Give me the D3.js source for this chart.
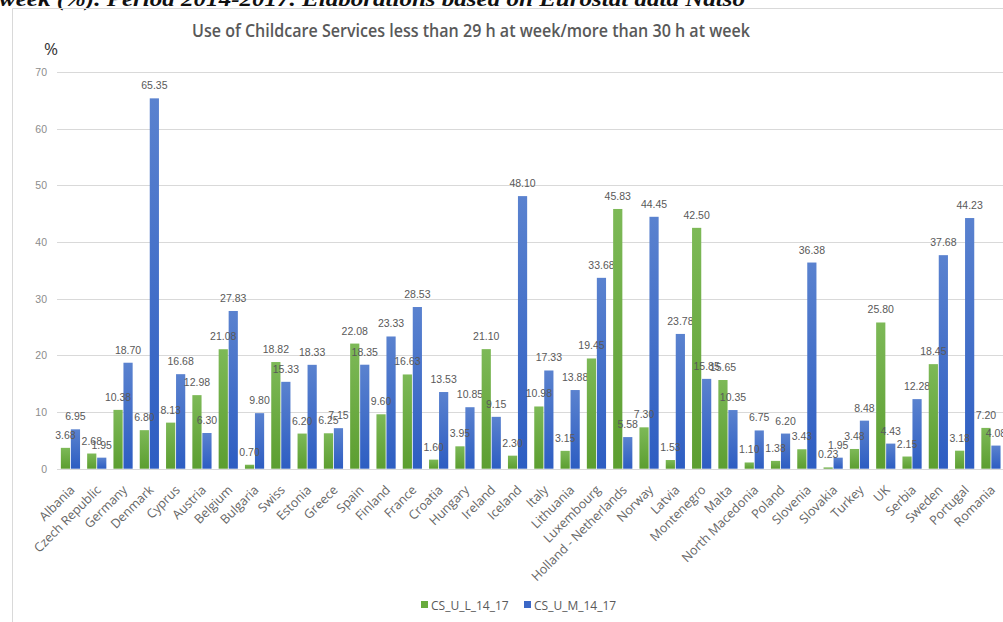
<!DOCTYPE html>
<html>
<head>
<meta charset="utf-8">
<script src="https://cdn.jsdelivr.net/npm/d3@7"></script>
<style>
  html, body { margin: 0; padding: 0; background: #fff; overflow: hidden; }
  svg { display: block; }
</style>
</head>
<body>
<svg id="chart" width="1003" height="622"></svg>
<script>
const countries = ["Albania","Czech Republic","Germany","Denmark","Cyprus","Austria","Belgium","Bulgaria","Swiss","Estonia","Greece","Spain","Finland","France","Croatia","Hungary","Ireland","Iceland","Italy","Lithuania","Luxembourg","Holland - Netherlands","Norway","Latvia","Montenegro","Malta","North Macedonia","Poland","Slovenia","Slovakia","Turkey","UK","Serbia","Sweden","Portugal","Romania"];
const csUL = [3.68,2.68,10.38,6.80,8.13,12.98,21.08,0.70,18.82,6.20,6.25,22.08,9.60,16.63,1.60,3.95,21.10,2.30,10.98,3.15,19.45,45.83,7.30,1.53,42.50,15.65,1.10,1.38,3.43,0.23,3.48,25.80,2.15,18.45,3.18,7.20];
const csUM = [6.95,1.95,18.70,65.35,16.68,6.30,27.83,9.80,15.33,18.33,7.15,18.35,23.33,28.53,13.53,10.85,9.15,48.10,17.33,13.88,33.68,5.58,44.45,23.78,15.85,10.35,6.75,6.20,36.38,1.95,8.48,4.43,12.28,37.68,44.23,4.08];
const seriesNames = ["CS_U_L_14_17","CS_U_M_14_17"];
const yTicks = [0,10,20,30,40,50,60,70];
const titleText = "Use of Childcare Services less than 29 h at week/more than 30 h at week";
const captionText = "week (%). Period 2014-2017. Elaborations based on Eurostat data Natso";

const svg = d3.select("#chart");
const defs = svg.append("defs");
function grad(id, top, bottom) {
  const g = defs.append("linearGradient").attr("id", id).attr("x1",0).attr("y1",0).attr("x2",0).attr("y2",1);
  g.append("stop").attr("offset","0%").attr("stop-color", top);
  g.append("stop").attr("offset","100%").attr("stop-color", bottom);
}
grad("gGreen", "#7db957", "#5c9e30");
grad("gBlue", "#5a82cf", "#2d5dc2");
const fills = ["url(#gGreen)", "url(#gBlue)"];
const legendColors = ["#68ab3d", "#3b67c6"];

// caption (cropped line of the surrounding document)
svg.append("text").attr("x", -1).attr("y", 6)
  .attr("font-family", "Liberation Serif, serif").attr("font-style","italic").attr("font-weight","bold")
  .attr("font-size", 22).attr("fill", "#111")
  .attr("textLength", 746).attr("lengthAdjust","spacingAndGlyphs")
  .text(captionText);

// chart frame
svg.append("line").attr("x1", 12.5).attr("x2", 1003).attr("y1", 8.5).attr("y2", 8.5).attr("stroke", "#d9d9d9");
svg.append("line").attr("x1", 12.5).attr("x2", 12.5).attr("y1", 8.5).attr("y2", 622).attr("stroke", "#d9d9d9");

const x0 = d3.scaleBand().domain(countries).range([57.3, 57.3 + 36 * 26.3]).paddingInner(0.27).paddingOuter(0.135);
const x1 = d3.scaleBand().domain([0,1]).range([0, x0.bandwidth()]).paddingInner(0.08);
const y = d3.scaleLinear().domain([0, 70]).range([468.7, 72]);

// gridlines
svg.append("g").selectAll("line").data(yTicks).join("line")
  .attr("x1", 57).attr("x2", 1003)
  .attr("y1", d => Math.round(y(d)) + 0.5).attr("y2", d => Math.round(y(d)) + 0.5)
  .attr("stroke", "#d9d9d9").attr("stroke-width", 1.2);

// y axis labels
const yAxis = d3.axisLeft(y).tickValues(yTicks).tickSize(0).tickPadding(0);
const ya = svg.append("g").attr("transform", "translate(47,0)").call(yAxis);
ya.select(".domain").remove();
ya.selectAll("text").attr("font-family", "Liberation Sans, Arial, sans-serif").attr("font-size", 10.5).attr("fill", "#8c8c8c");

// bars
const data = countries.map((c, i) => ({ c, v: [csUL[i], csUM[i]] }));
const groups = svg.append("g").selectAll("g").data(data).join("g")
  .attr("transform", d => `translate(${x0(d.c)},0)`);
groups.selectAll("rect").data(d => d.v.map((v, k) => ({ v, k }))).join("rect")
  .attr("x", d => x1(d.k)).attr("width", x1.bandwidth())
  .attr("y", d => y(d.v)).attr("height", d => y(0) - y(d.v))
  .attr("fill", d => fills[d.k]);

// value labels
groups.selectAll("text.val").data(d => d.v.map((v, k) => ({ v, k }))).join("text")
  .attr("class", "val")
  .attr("x", d => x1(d.k) + x1.bandwidth() / 2)
  .attr("y", d => y(d.v) - 9)
  .attr("text-anchor", "middle")
  .attr("font-family", "Liberation Sans, Arial, sans-serif").attr("font-size", 10.5)
  .attr("fill", "#595959")
  .text(d => d.v.toFixed(2));

// x axis labels
const xAxis = d3.axisBottom(x0).tickSize(0).tickPadding(0);
const xa = svg.append("g").attr("transform", `translate(0,${y(0)})`).call(xAxis);
xa.select(".domain").remove();
xa.selectAll("text")
  .attr("font-family", "Open Sans, sans-serif").attr("font-size", 12.6).attr("fill", "#666")
  .attr("text-anchor", "end").attr("dy", null).attr("y", 0)
  .attr("transform", "translate(5,22) rotate(-45)");

// title
svg.append("text").attr("x", 192).attr("y", 37)
  .attr("font-family", "Open Sans, sans-serif").attr("font-weight", 600)
  .attr("font-size", 18).attr("fill", "#595959")
  .attr("textLength", 558).attr("lengthAdjust","spacingAndGlyphs")
  .text(titleText);

// % label
svg.append("text").attr("x", 44).attr("y", 55)
  .attr("font-family", "Open Sans, sans-serif").attr("font-size", 17).attr("fill", "#333")
  .text("%");

// legend
const lx = [421, 524];
seriesNames.forEach((s, k) => {
  svg.append("rect").attr("x", lx[k]).attr("y", 601).attr("width", 7).attr("height", 7).attr("fill", legendColors[k]);
  svg.append("text").attr("x", lx[k] + 10).attr("y", 610)
    .attr("font-family", "Open Sans, sans-serif").attr("font-size", 12).attr("fill", "#595959")
    .text(s);
});
</script>
</body>
</html>
